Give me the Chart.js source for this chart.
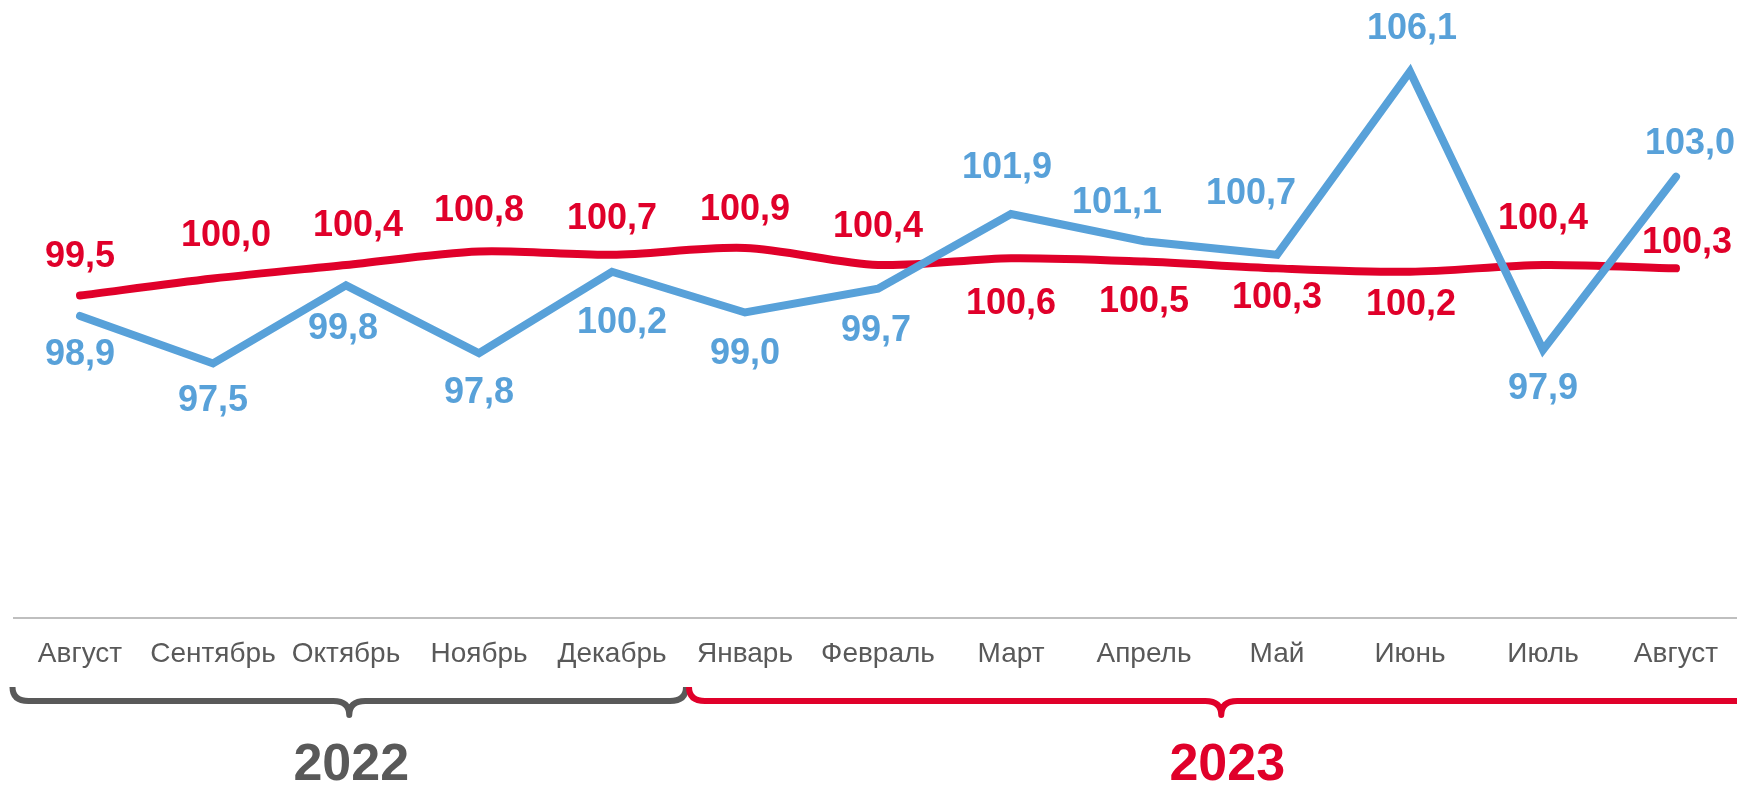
<!DOCTYPE html>
<html>
<head>
<meta charset="utf-8">
<script src="https://cdn.jsdelivr.net/npm/chart.js@4"></script>
<style>
  html, body { margin: 0; padding: 0; background: #ffffff; overflow: hidden; }
  #wrap { width: 1745px; height: 787px; position: relative; }
</style>
</head>
<body>
<div id="wrap"><canvas id="c" width="1745" height="787"></canvas></div>
<script>
// ---- data ----
const months = ['Август','Сентябрь','Октябрь','Ноябрь','Декабрь','Январь','Февраль','Март','Апрель','Май','Июнь','Июль','Август'];
const years = ['2022', '2023'];
const yearStartIndex = [0, 5];
const seriesBlue = [98.9, 97.5, 99.8, 97.8, 100.2, 99.0, 99.7, 101.9, 101.1, 100.7, 106.1, 97.9, 103.0];
const seriesRed  = [99.5, 100.0, 100.4, 100.8, 100.7, 100.9, 100.4, 100.6, 100.5, 100.3, 100.2, 100.4, 100.3];

// ---- styles ----
const RED = '#E0002A';
const BLUE = '#58A1D9';
const GRAY = '#595959';
const FONT = '"Liberation Sans", Arial, sans-serif';

// label offsets (dx, dy of label centre relative to the point), presentation only
const blueLabelOffsets = [[0,39],[0,38],[-3,44],[0,40],[10,51],[0,42],[-2,42],[-4,-46],[-27,-38],[-26,-61],[2,-42],[0,39],[14,-33]];
const redLabelOffsets  = [[0,-38],[13,-42],[12,-39],[0,-40],[0,-36],[0,-38],[0,-38],[0,46],[0,40],[0,30],[1,33],[0,-46],[11,-25]];

const fmt = v => v.toFixed(1).replace('.', ',');

const labelPlugin = {
  id: 'pointLabels',
  afterDatasetsDraw(chart) {
    const ctx = chart.ctx;
    ctx.save();
    ctx.font = 'bold 36px ' + FONT;
    ctx.textAlign = 'center';
    ctx.textBaseline = 'middle';
    chart.data.datasets.forEach((ds, di) => {
      const meta = chart.getDatasetMeta(di);
      const offs = ds.labelOffsets;
      ctx.fillStyle = ds.borderColor;
      meta.data.forEach((pt, i) => {
        const o = offs[i];
        ctx.fillText(fmt(ds.data[i]), pt.x + o[0], pt.y + o[1]);
      });
    });
    ctx.restore();
  }
};

function drawBrace(ctx, x0, x1, yTop, yBar, yTip, r) {
  const tip = (x0 + x1) / 2;
  ctx.beginPath();
  ctx.moveTo(x0, yTop);
  ctx.quadraticCurveTo(x0, yBar, x0 + r, yBar);
  ctx.lineTo(tip - r, yBar);
  ctx.quadraticCurveTo(tip, yBar, tip, yTip);
  ctx.quadraticCurveTo(tip, yBar, tip + r, yBar);
  ctx.lineTo(x1 - r, yBar);
  ctx.quadraticCurveTo(x1, yBar, x1, yTop);
  ctx.stroke();
  return tip;
}

const bracePlugin = {
  id: 'yearBraces',
  afterDraw(chart) {
    const ctx = chart.ctx;
    const xs = chart.scales.x;
    const band = xs.getPixelForValue(1) - xs.getPixelForValue(0);
    const boundary = (xs.getPixelForValue(yearStartIndex[1] - 1) + xs.getPixelForValue(yearStartIndex[1])) / 2 + 9;
    const left = xs.getPixelForValue(0) - band / 2 - 1;
    const right = xs.getPixelForValue(months.length - 1) + band / 2 + 11;
    ctx.save();
    ctx.lineWidth = 6;
    ctx.lineJoin = 'round';
    ctx.lineCap = 'butt';
    ctx.strokeStyle = GRAY;
    const t1 = drawBrace(ctx, left, boundary - 1.5, 687, 701, 715, 16);
    ctx.strokeStyle = RED;
    const t2 = drawBrace(ctx, boundary + 1.5, right, 687, 701, 715, 16);
    ctx.font = 'bold 52px ' + FONT;
    ctx.textAlign = 'center';
    ctx.textBaseline = 'middle';
    ctx.fillStyle = GRAY;
    ctx.fillText(years[0], t1 + 2, 766);
    ctx.fillStyle = RED;
    ctx.fillText(years[1], t2 + 6, 766);
    ctx.restore();
  }
};

new Chart(document.getElementById('c'), {
  type: 'line',
  data: {
    labels: months,
    datasets: [
      { label: 'red', data: seriesRed, borderColor: RED, borderWidth: 8, pointRadius: 0, tension: 0.3, order: 1, labelOffsets: redLabelOffsets, borderCapStyle: 'round', borderJoinStyle: 'round' },
      { label: 'blue', data: seriesBlue, borderColor: BLUE, borderWidth: 8, pointRadius: 0, tension: 0, order: 0, labelOffsets: blueLabelOffsets, borderCapStyle: 'round', borderJoinStyle: 'miter' }
    ]
  },
  options: {
    responsive: false,
    animation: false,
    layout: { padding: { left: 13.5, right: 2.5, top: 7, bottom: 0 } },
    plugins: { legend: { display: false }, tooltip: { enabled: false } },
    scales: {
      x: {
        offset: true,
        grid: { display: false, drawTicks: false },
        border: { display: true, color: '#BFBFBF', width: 2 },
        ticks: { color: GRAY, font: { family: FONT, size: 28 }, padding: 19, autoSkip: false, maxRotation: 0, minRotation: 0 },
        afterFit(scale) { scale.height = 169; }
      },
      y: {
        display: false,
        min: 90,
        max: 108
      }
    }
  },
  plugins: [labelPlugin, bracePlugin]
});
</script>
</body>
</html>
